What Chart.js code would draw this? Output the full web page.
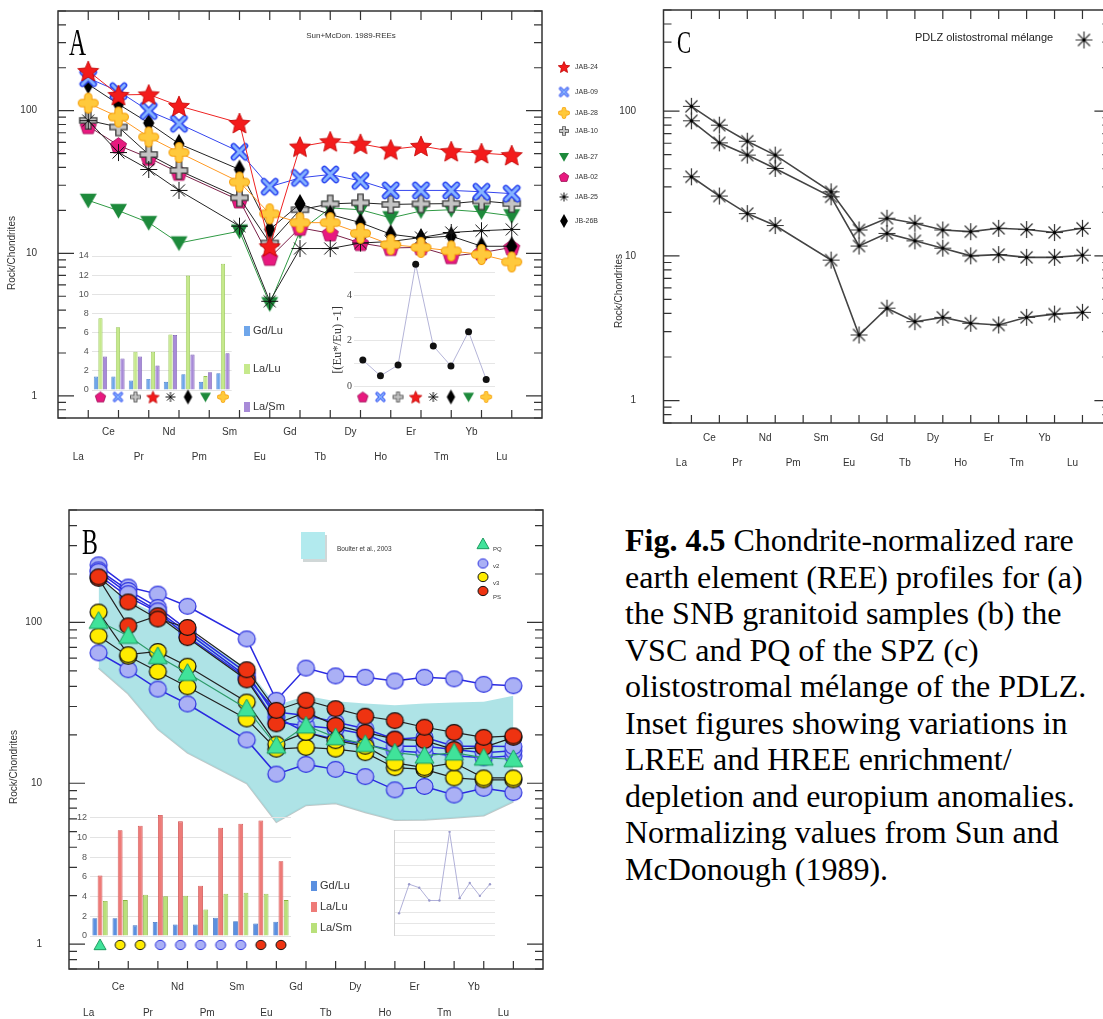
<!DOCTYPE html>
<html>
<head>
<meta charset="utf-8">
<script src="https://cdn.jsdelivr.net/npm/chart.js@4.4.1/dist/chart.umd.min.js"></script>
<style>
  html, body { margin: 0; padding: 0; background: #fff; width: 1103px; height: 1019px; overflow: hidden; }
  canvas { position: absolute; }
  #caption {
    position: absolute; left: 625px; top: 522px;
    font-family: "Liberation Serif", "Times New Roman", serif;
    font-size: 32px; line-height: 36.5px; white-space: nowrap; color: #000;
  }
</style>
</head>
<body>
<canvas id="mainA" width="610" height="475" style="left:0;top:0"></canvas>
<canvas id="barsA" width="230" height="175" style="left:60px;top:245px"></canvas>
<canvas id="euA" width="175" height="165" style="left:325px;top:245px"></canvas>
<canvas id="mainC" width="560" height="475" style="left:560px;top:0"></canvas>
<canvas id="mainB" width="560" height="539" style="left:0;top:480px"></canvas>
<canvas id="barsB" width="300" height="160" style="left:60px;top:800px"></canvas>
<canvas id="euB" width="120" height="125" style="left:385px;top:820px"></canvas>
<div id="caption"><b>Fig. 4.5</b> Chondrite-normalized rare<br>earth element (REE) profiles for (a)<br>the SNB granitoid samples (b) the<br>VSC and PQ of the SPZ (c)<br>olistostromal mélange of the PDLZ.<br>Inset figures showing variations in<br>LREE and HREE enrichment/<br>depletion and europium anomalies.<br>Normalizing values from Sun and<br>McDonough (1989).</div>

<script>
Chart.defaults.font.family = "'Liberation Sans', Arial, sans-serif";

// REE order on the x axis (Pm has no analyses)
const elements = ["La", "Ce", "Pr", "Nd", "Pm", "Sm", "Eu", "Gd", "Tb", "Dy", "Ho", "Er", "Tm", "Yb", "Lu"];

// Panel A - SNB granitoids (rock/chondrite)
const jab24 = [190, 129, 130, 108, null, 82, 11.2, 56, 61, 58.6, 53.5, 56.6, 52, 50.4, 48.8];
const jab09 = [169, 137, 99.6, 81, null, 51.5, 29.3, 33.8, 35.7, 32.2, 27.6, 27.6, 27.6, 27, 26.2];
const jab28 = [113, 90.3, 65.4, 50.9, null, 31.6, 18.9, 16.4, 16.4, 13.8, 11.5, 11, 10.4, 9.8, 8.7];
const jab10 = [85.5, 76.8, 49.3, 38.1, null, 24.5, 11.8, 20.2, 22.2, 22.6, 22, 22.2, 22.3, 23.3, 22.3];
const jab27 = [23.5, 19.9, 16.4, 11.8, null, 14.3, 4.42, 14.3, 20.8, 20.2, 17.7, 19.8, 20.2, 19.5, 18.3];
const jab02 = [77.9, 57.1, 46.7, 36.7, null, 23.5, 9.29, 15.1, 13.8, 11.8, 10.9, 11, 9.55, 10.1, 11];
const jab25 = [85.1, 50.9, 38.7, 27.6, null, 15.5, 4.61, 10.8, 10.8, 11.8, 12.1, 12.9, 14, 14.4, 14.7];
const jb26b = [153, 111, 82, 58.6, null, 38.7, 14.7, 22.2, 18.7, 16.4, 13.6, 12.8, 13.2, 11.2, 11.2];

// Panel A insets (samples in alphabetical order)
const aInsetSamples = ["JAB-02", "JAB-09", "JAB-10", "JAB-24", "JAB-25", "JB-26B", "JAB-27", "JAB-28"];
const aGdLu = [1.4, 1.4, 1.0, 1.15, 0.85, 1.65, 0.85, 1.75];
const aLaLu = [7.5, 6.55, 4.0, 4.0, 5.8, 11.95, 1.45, 13.2];
const aLaSm = [3.5, 3.3, 3.5, 2.55, 5.75, 3.7, 1.85, 3.85];
const aEuAnomaly = [1.14, 0.45, 0.92, 5.35, 1.76, 0.88, 2.39, 0.29];

// Panel B - VSC (v2, v3, PS) and PQ
const bPQ = [102, 82.4, 61.6, 48.4, null, 29.1, 17.1, 22.8, 19.3, 17.5, 15.5, 14.8, 15.5, 14.4, 14.1];
const bPS1 = [192, 134, 105, 93, null, 50.8, 28.4, 32.8, 29.1, 26.1, 24.5, 22.3, 20.7, 19.3, 19.7];
const bPS2 = [188, 95.2, 110, 80.4, null, 43.9, 23.4, 27.7, 22.9, 20.7, 18.8, 18.4, 16.2, 16.7, 19.3];
const bV3a = [116, 63, 66, 53.4, null, 32, 17.5, 20.7, 18.4, 17, 13.4, 12.5, 13.4, 10.8, 10.8];
const bV3b = [82.4, 61.6, 49.5, 39.8, null, 25.1, 16.3, 16.7, 16.3, 15.5, 12.5, 12.2, 10.8, 10.5, 10.5];
const bV2a = [228, 166, 150, 126, null, 79, 32.8, 52, 46.5, 45.6, 43.2, 45.6, 44.6, 41.2, 40.4];
const bV2b = [207, 151, 118, 86.5, null, 46, 27.7, 26.4, 24, 21.8, 18.8, 19.3, 17, 17, 16.9];
const bV2c = [197, 144, 116, 82, null, 45, 24, 22.8, 21.8, 20.2, 17, 17, 16.2, 15.5, 15.9];
const bV2d = [212, 158, 124, 90, null, 48.4, 25.8, 20.7, 18.8, 17.5, 15.9, 15.5, 14.8, 14.4, 14.8];
const bV2e = [64.7, 50.8, 38.5, 31.1, null, 18.6, 11.4, 13.1, 12.2, 11, 9.1, 9.55, 8.45, 9.3, 8.75];
const boulterHigh = [190, 137, 113, 89, null, 52, 30.5, 35, 32.4, 31.3, 30.5, 31.3, 31.8, 32.1, 35];
const boulterLow = [52, 36, 21.7, 15.5, null, 10, 5.74, 7.3, 7.5, 6.6, 5.9, 5.94, 6.1, 6.3, 7.7];

// Panel B insets
const bInsetGroups = ["PQ", "v3", "v3", "v2", "v2", "v2", "v2", "v2", "PS", "PS"];
const bGdLu = [1.8, 1.8, 1.08, 1.42, 1.18, 1.18, 1.85, 1.5, 1.28, 1.45];
const bLaLu = [6.15, 10.75, 11.2, 12.3, 11.65, 5.1, 11.0, 11.4, 11.75, 7.6];
const bLaSm = [3.55, 3.65, 4.2, 4.05, 4.1, 2.7, 4.3, 4.4, 4.3, 3.65];
const bEuAnomaly = [0.95, 2.2, 2.05, 1.5, 1.5, 4.45, 1.6, 2.25, 1.7, 2.2];

// Panel C - PDLZ olistostromal melange
const cMel1 = [108, 80, 62, 49.7, null, 27.7, 15.1, 18.2, 16.8, 15.1, 14.7, 15.5, 15.2, 14.5, 15.5];
const cMel2 = [85.8, 60.4, 49.7, 40.2, null, 25.6, 11.7, 14.3, 12.7, 11.3, 10, 10.2, 9.77, 9.77, 10.1];
const cMel3 = [35.2, 25.9, 19.6, 16.2, null, 9.35, 2.84, 4.35, 3.51, 3.76, 3.42, 3.33, 3.76, 3.96, 4.07];

// ---------- marker images ----------
function marker(kind, s, fill, edge) {
  const c = document.createElement("canvas");
  const w = Math.ceil(s) + 4;
  c.width = w; c.height = w;
  const g = c.getContext("2d");
  g.translate(w / 2, w / 2);
  const r = s / 2;
  const poly = (pts) => { g.beginPath(); pts.forEach(([x, y]) => g.lineTo(x, y)); g.closePath(); };
  const spokes = (n, col, lw) => {
    g.beginPath();
    for (let k = 0; k < n; k++) {
      const a = k * Math.PI / n;
      g.moveTo(-r * Math.cos(a), -r * Math.sin(a));
      g.lineTo(r * Math.cos(a), r * Math.sin(a));
    }
    g.strokeStyle = col; g.lineWidth = lw; g.stroke();
  };
  if (kind === "star") {
    const pts = [];
    for (let i = 0; i < 10; i++) {
      const a = -Math.PI / 2 + i * Math.PI / 5, rr = i % 2 ? r * 0.46 : r;
      pts.push([rr * Math.cos(a), rr * Math.sin(a) + r * 0.1]);
    }
    poly(pts); g.fillStyle = "#f31b1b"; g.fill();
    g.strokeStyle = "#c00000"; g.lineWidth = 0.8; g.stroke();
  } else if (kind === "xmark") {
    const a = r * 0.62;
    g.lineCap = "round"; g.beginPath();
    g.moveTo(-a, -a); g.lineTo(a, a); g.moveTo(a, -a); g.lineTo(-a, a);
    g.strokeStyle = "#2b45f0"; g.lineWidth = r * 0.62; g.stroke();
    g.strokeStyle = "#86b4ff"; g.lineWidth = r * 0.3; g.stroke();
  } else if (kind === "flower") {
    const a = r * 0.6;
    g.lineCap = "round"; g.beginPath();
    g.moveTo(-a, 0); g.lineTo(a, 0); g.moveTo(0, -a); g.lineTo(0, a);
    g.strokeStyle = "#f59d0a"; g.lineWidth = r * 0.8; g.stroke();
    g.strokeStyle = "#ffc93c"; g.lineWidth = r * 0.6; g.stroke();
  } else if (kind === "plus") {
    const a = r * 0.62;
    g.lineCap = "square"; g.beginPath();
    g.moveTo(-a, 0); g.lineTo(a, 0); g.moveTo(0, -a); g.lineTo(0, a);
    g.strokeStyle = "#3c3c3c"; g.lineWidth = r * 0.7; g.stroke();
    g.strokeStyle = "#c4c4c4"; g.lineWidth = r * 0.42; g.stroke();
  } else if (kind === "triDown") {
    poly([[-r, -0.78 * r], [r, -0.78 * r], [0, 0.95 * r]]);
    g.fillStyle = "#1d8a3b"; g.fill();
  } else if (kind === "pentagon") {
    const pts = [];
    for (let k = 0; k < 5; k++) {
      const a = -Math.PI / 2 + k * 2 * Math.PI / 5;
      pts.push([r * Math.cos(a), r * Math.sin(a) + r * 0.08]);
    }
    poly(pts); g.fillStyle = "#e8197f"; g.fill();
    g.strokeStyle = "#9c0f55"; g.lineWidth = 0.8; g.stroke();
  } else if (kind === "asterisk") {
    spokes(4, "#111", 1);
  } else if (kind === "diamond") {
    poly([[0, -r], [0.56 * r, 0], [0, r], [-0.56 * r, 0]]);
    g.fillStyle = "#000"; g.fill();
  } else if (kind === "circle") {
    g.beginPath(); g.ellipse(0, 0, r, r * 0.93, 0, 0, Math.PI * 2);
    g.fillStyle = fill; g.fill();
    g.strokeStyle = edge; g.lineWidth = Math.max(1, s / 14); g.stroke();
  } else if (kind === "triUp") {
    poly([[0, -r], [r, 0.78 * r], [-r, 0.78 * r]]);
    g.fillStyle = "#40e39a"; g.fill();
    g.strokeStyle = "#1b9a5e"; g.lineWidth = 1; g.stroke();
  } else if (kind === "astDot") {
    spokes(4, "#333", 1.2);
    g.beginPath(); g.arc(0, 0, 1.7, 0, Math.PI * 2); g.fillStyle = "#000"; g.fill();
  }
  return c;
}

const V2 = ["#aab0f5", "#2f35e0"], V3 = ["#ffec00", "#111"], PS = ["#ee3311", "#111"];

// ---------- drawing helpers ----------
function stamp(ctx, m, x, y) { ctx.drawImage(m, x - m.width / 2, y - m.height / 2); }
function label(ctx, s, x, y, font, align, color) {
  ctx.font = font; ctx.fillStyle = color || "#333";
  ctx.textAlign = align || "left"; ctx.textBaseline = "middle";
  ctx.fillText(s, x, y);
}
function panelLetter(ctx, s, x, base, size, sx) {
  ctx.save(); ctx.translate(x, base); ctx.scale(sx, 1);
  ctx.font = size + "px 'Liberation Serif', serif"; ctx.fillStyle = "#000";
  ctx.textAlign = "left"; ctx.textBaseline = "alphabetic";
  ctx.fillText(s, 0, 0); ctx.restore();
}
function vText(ctx, s, x, y, font) {
  ctx.save(); ctx.translate(x, y); ctx.rotate(-Math.PI / 2);
  label(ctx, s, 0, 0, font, "center"); ctx.restore();
}
// fixed axis width, and no extra top/bottom room from the tick padding
const fixWidth = (w) => (s) => { s.width = w; s.paddingTop = 0; s.paddingBottom = 0; };

// frame, inward log ticks and element ticks, like the GCDkit spider plots
const frame = (cfg) => ({
  id: "frame",
  afterDraw(chart) {
    const { ctx, chartArea: a, scales: { x, y } } = chart;
    ctx.save();
    ctx.strokeStyle = "#333"; ctx.lineWidth = 1.5;
    ctx.strokeRect(a.left, a.top, a.right - a.left, a.bottom - a.top);
    ctx.lineWidth = 1.2;
    ctx.beginPath();
    for (let k = -1; k <= 2; k++) {
      for (let m = 1; m <= 9; m++) {
        const v = m * Math.pow(10, k);
        if (v < y.min || v > y.max) continue;
        const py = y.getPixelForValue(v), len = m === 1 ? 16 : 8;
        ctx.moveTo(a.left, py); ctx.lineTo(a.left + len, py);
        ctx.moveTo(a.right, py); ctx.lineTo(a.right - len, py);
      }
    }
    elements.forEach((e, i) => {
      const px = x.getPixelForValue(i);
      ctx.moveTo(px, a.bottom); ctx.lineTo(px, a.bottom - 8);
      if (cfg.topTicks) { ctx.moveTo(px, a.top); ctx.lineTo(px, a.top + 9); }
    });
    ctx.stroke();
    vText(ctx, "Rock/Chondrites", cfg.titleX, cfg.titleY, "10px 'Liberation Sans'");
    if (cfg.extra) cfg.extra(ctx);
    ctx.restore();
  },
});

function reeChart(id, datasets, g) {
  return new Chart(document.getElementById(id), {
    type: "line",
    data: { datasets },
    options: {
      responsive: false, animation: false, events: [],
      layout: { padding: { left: 0, top: g.top, right: g.right, bottom: 0 } },
      elements: { line: { tension: 0 } },
      scales: {
        x: {
          type: "linear", min: -1, max: 15,
          afterFit: (s) => { s.height = g.xh; },
          grid: { display: false, drawTicks: false }, border: { display: false },
          ticks: {
            stepSize: 1, autoSkip: false, maxRotation: 0, padding: g.tickPad, labelOffset: -10,
            color: "#333", font: { size: 10, lineHeight: g.lineH },
            callback: (v) => { const e = elements[v]; if (!e) return ""; return v % 2 ? [e, ""] : ["", e]; },
          },
        },
        y: {
          type: "logarithmic", min: 0.7, max: 500,
          afterFit: fixWidth(g.yw),
          afterBuildTicks: (s) => { s.ticks = [1, 10, 100].map((v) => ({ value: v })); },
          grid: { display: false, drawTicks: false }, border: { display: false },
          ticks: { padding: g.labelPad, color: "#333", font: { size: 10 }, callback: (v) => String(v) },
        },
      },
      plugins: { legend: { display: false }, tooltip: { enabled: false } },
    },
    plugins: [frame(g)],
  });
}

const pts = (vals) => vals.map((v, i) => ({ x: i, y: v }));
function series(vals, m, line, width, extra) {
  return Object.assign({
    data: pts(vals), borderColor: line, borderWidth: width || 1, spanGaps: true,
    pointStyle: m, pointRadius: 8,
  }, extra || {});
}

// ---------- Panel A ----------
const A = {
  star: marker("star", 22), xmark: marker("xmark", 19), flower: marker("flower", 21),
  plus: marker("plus", 19), tri: marker("triDown", 17), pent: marker("pentagon", 17),
  ast: marker("asterisk", 17), dia: marker("diamond", 20),
};
const aLegendRows = [
  ["JAB-24", marker("star", 12), 67], ["JAB-09", marker("xmark", 11), 92],
  ["JAB-28", marker("flower", 12), 113], ["JAB-10", marker("plus", 10), 131],
  ["JAB-27", marker("triDown", 10), 157], ["JAB-02", marker("pentagon", 10), 177],
  ["JAB-25", marker("asterisk", 9), 197], ["JB-26B", marker("diamond", 14), 221],
];
const aRowMarks = [marker("pentagon", 11), marker("xmark", 11), marker("plus", 11), marker("star", 13),
  marker("asterisk", 10), marker("diamond", 15), marker("triDown", 11), marker("flower", 12)];

reeChart("mainA", [
  series(jab24, A.star, "#ee2222"),
  series(jab09, A.xmark, "#3344ee"),
  series(jab28, A.flower, "#ff9922"),
  series(jab25, A.ast, "#222"),
  series(jb26b, A.dia, "#222"),
  series(jab10, A.plus, "#222"),
  series(jab02, A.pent, "#7a2048"),
  series(jab27, A.tri, "#2f9a44"),
], {
  top: 11, right: 68, xh: 57, yw: 58, tickPad: 1.5, lineH: 2.5, labelPad: 21,
  titleX: 12, titleY: 253, topTicks: true,
  extra: (ctx) => {
    panelLetter(ctx, "A", 69, 55, 38, 0.62);
    label(ctx, "Sun+McDon. 1989-REEs", 351, 36, "8px 'Liberation Sans'", "center");
    aLegendRows.forEach(([t, m, y]) => { stamp(ctx, m, 564, y); label(ctx, t, 575, y, "7px 'Liberation Sans'"); });
  },
});

// ---------- inset charts ----------
function ratioBars(id, gd, laLu, laSm, rowMarks, o) {
  const names = ["Gd/Lu", "La/Lu", "La/Sm"];
  return new Chart(document.getElementById(id), {
    type: "bar",
    data: {
      labels: rowMarks.map((_, i) => i),
      datasets: [gd, laLu, laSm].map((d, i) => ({
        label: names[i], data: d, backgroundColor: o.colors[i], borderColor: o.edges[i], borderWidth: 0.8,
      })),
    },
    options: {
      responsive: false, animation: false, events: [],
      layout: { padding: o.pad },
      datasets: { bar: { categoryPercentage: 0.78, barPercentage: 0.92 } },
      scales: {
        x: { display: false },
        y: {
          min: 0, max: o.max,
          afterFit: fixWidth(o.yw),
          border: { display: false },
          grid: { color: "#e3e3e3", drawTicks: false },
          ticks: { stepSize: 2, includeBounds: false, padding: 3, color: "#555", font: { size: 9 } },
        },
      },
      plugins: { legend: { display: false }, tooltip: { enabled: false } },
    },
    plugins: [{
      id: "insetDecor",
      afterDraw(chart) {
        const { ctx, chartArea: a, scales: { x } } = chart;
        rowMarks.forEach((m, i) => stamp(ctx, m, x.getPixelForValue(i), a.bottom + o.rowGap));
        names.forEach((t, i) => {
          const y = o.legY[i];
          ctx.fillStyle = o.colors[i];
          ctx.fillRect(o.legX - 9, y - 5, 6, 10);
          label(ctx, t, o.legX, y, o.legFont);
        });
      },
    }],
  });
}

function euInset(id, vals, rowMarks, o) {
  return new Chart(document.getElementById(id), {
    type: "line",
    data: {
      labels: vals.map((_, i) => i),
      datasets: [{
        data: vals, borderColor: o.line, borderWidth: 1, tension: 0,
        pointRadius: o.pr, pointBackgroundColor: o.pc, pointBorderWidth: 0,
      }],
    },
    options: {
      responsive: false, animation: false, events: [],
      layout: { padding: o.pad },
      scales: {
        x: { display: false, offset: true },
        y: {
          min: 0, max: o.max,
          afterFit: fixWidth(o.yw),
          afterBuildTicks: (s) => { s.ticks = []; for (let v = 0; v <= o.max + 1e-9; v += 0.5) s.ticks.push({ value: v }); },
          border: { display: o.axisLine, color: "#d4d4d4" },
          grid: { color: "#e6e6e6", drawTicks: false },
          ticks: {
            display: o.showTicks, padding: 2, color: "#444", font: { size: 10, family: "'Liberation Serif', serif" },
            callback: (v) => (v % 2 === 0 ? String(v) : ""),
          },
        },
      },
      plugins: { legend: { display: false }, tooltip: { enabled: false } },
    },
    plugins: [{
      id: "euDecor",
      afterDraw(chart) {
        const { ctx, chartArea: a, scales: { x } } = chart;
        if (rowMarks) rowMarks.forEach((m, i) => stamp(ctx, m, x.getPixelForValue(i), a.bottom + o.rowGap));
        if (o.title) vText(ctx, o.title, o.titleX, o.titleY, "12.5px 'Liberation Serif', serif");
      },
    }],
  });
}

ratioBars("barsA", aGdLu, aLaLu, aLaSm, aRowMarks, {
  pad: { left: 0, top: 11, right: 58.3, bottom: 30 }, yw: 31.7, max: 14,
  colors: ["#6fa6ea", "#c6e98c", "#a88bd8"], edges: ["#4f86cc", "#92c24e", "#7a5cb2"],
  rowGap: 7, legX: 193, legY: [86, 124, 162], legFont: "11px 'Liberation Sans'",
});

euInset("euA", aEuAnomaly, aRowMarks, {
  pad: { left: 0, top: 8, right: 5, bottom: 24 }, yw: 29, max: 5.85,
  line: "#b4b4d8", pr: 3.5, pc: "#111", axisLine: false, showTicks: true,
  rowGap: 11, title: "[(Eu*/Eu) -1]", titleX: 13, titleY: 95,
});

// ---------- Panel C ----------
const cMark = marker("astDot", 17);
reeChart("mainC", [
  series(cMel1, cMark, "#444", 1.6),
  series(cMel2, cMark, "#444", 1.6),
  series(cMel3, cMark, "#444", 1.6),
], {
  top: 10, right: 7.5, xh: 52, yw: 103.5, tickPad: 2.5, lineH: 2.5, labelPad: 27.5,
  titleX: 59, titleY: 291, topTicks: true,
  extra: (ctx) => {
    panelLetter(ctx, "C", 117, 53, 32, 0.66);
    label(ctx, "PDLZ olistostromal mélange", 355, 38, "11px 'Liberation Sans'", "left", "#222");
    stamp(ctx, cMark, 524, 40);
  },
});

// ---------- Panel B ----------
const B = {
  v2: marker("circle", 17, V2[0], V2[1]), v3: marker("circle", 17, V3[0], V3[1]),
  ps: marker("circle", 17, PS[0], PS[1]), pq: marker("triUp", 19),
};
const bRowMarks = bInsetGroups.map((g) =>
  g === "PQ" ? marker("triUp", 12) : marker("circle", 10, ...(g === "v2" ? V2 : g === "v3" ? V3 : PS)));

reeChart("mainB", [
  series(bPQ, B.pq, "#2f9c6b", 1.2),
  series(bPS1, B.ps, "#222", 1.2),
  series(bPS2, B.ps, "#222", 1.2),
  series(bV3a, B.v3, "#222", 1.2),
  series(bV3b, B.v3, "#222", 1.2),
  series(bV2b, B.v2, "#2a2ae0", 1.5),
  series(bV2c, B.v2, "#2a2ae0", 1.5),
  series(bV2d, B.v2, "#2a2ae0", 1.5),
  series(bV2a, B.v2, "#2a2ae0", 1.5),
  series(bV2e, B.v2, "#2a2ae0", 1.5),
  series(boulterHigh, false, "rgba(0,0,0,0)", 0, { pointRadius: 0, fill: "+1", backgroundColor: "rgba(160,222,226,0.85)", order: 10 }),
  series(boulterLow, false, "rgba(110,130,130,0.45)", 2, { pointRadius: 0, order: 10 }),
], {
  top: 30, right: 17, xh: 50, yw: 69, tickPad: 5, lineH: 2.6, labelPad: 27,
  titleX: 14, titleY: 287, topTicks: false,
  extra: (ctx) => {
    panelLetter(ctx, "B", 82, 74, 35, 0.68);
    ctx.fillStyle = "rgba(120,140,140,0.35)"; ctx.fillRect(303, 55, 24, 27);
    ctx.fillStyle = "#b2eaee"; ctx.fillRect(301, 52, 24, 27);
    label(ctx, "Boulter et al., 2003", 337, 69, "6.5px 'Liberation Sans'");
    [["PQ", marker("triUp", 12), 64, 69], ["v2", marker("circle", 10, ...V2), 83.5, 86],
     ["v3", marker("circle", 10, ...V3), 97, 103], ["PS", marker("circle", 10, ...PS), 111, 117]]
      .forEach(([t, m, my, ty]) => {
        stamp(ctx, m, 483, my);
        label(ctx, t, 493, ty, "6px 'Liberation Sans'");
      });
  },
});

ratioBars("barsB", bGdLu, bLaLu, bLaSm, bRowMarks, {
  pad: { left: 0, top: 13, right: 69, bottom: 24 }, yw: 30, max: 12.5,
  colors: ["#5b90e0", "#ee7b78", "#b9e07a"], edges: ["#3f70c0", "#cc4444", "#8ab040"],
  rowGap: 9, legX: 260, legY: [86, 107, 128], legFont: "11px 'Liberation Sans'",
});

euInset("euB", bEuAnomaly, null, {
  pad: { left: 0, top: 10.7, right: 10, bottom: 9.6 }, yw: 9, max: 4.5,
  line: "#b0b0d8", pr: 1.2, pc: "#9a9acc", axisLine: true, showTicks: false,
});
</script>
</body>
</html>
